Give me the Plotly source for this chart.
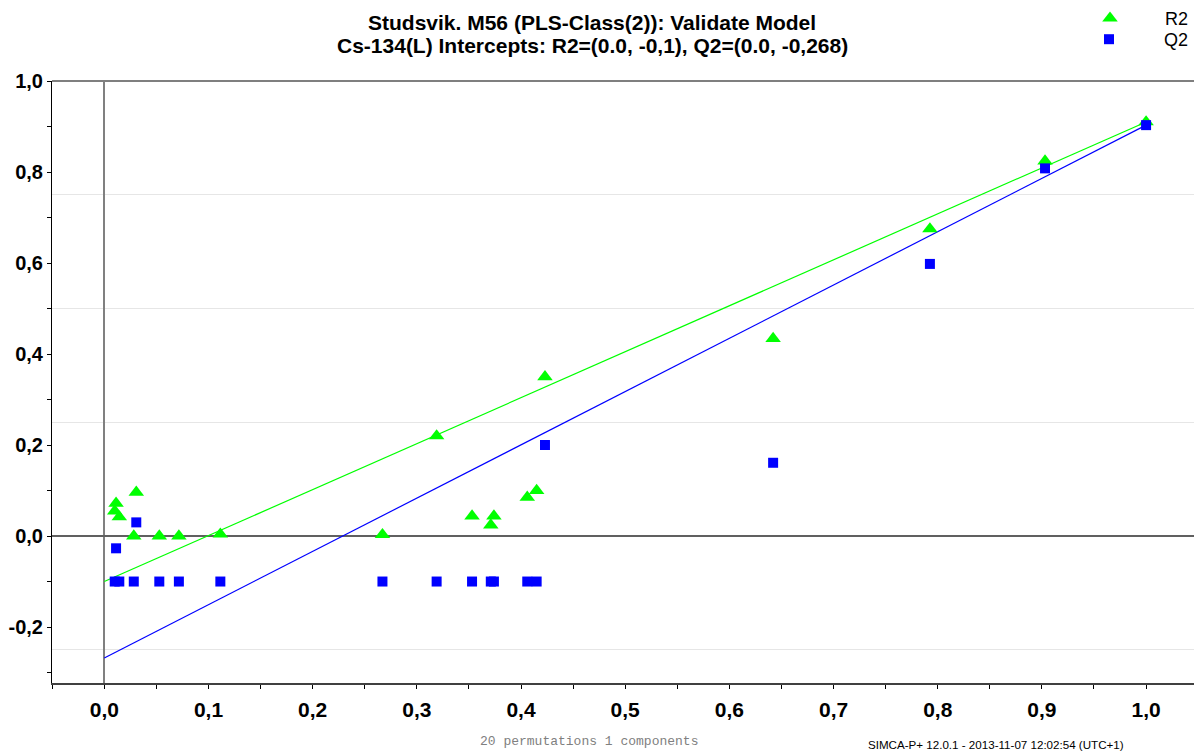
import plotly.graph_objects as go

# Permutation test results: correlation between permuted and original Y,
# with the R2 and Q2 obtained for each model (last entry = original model)
perm_corr = [0.0100, 0.0113, 0.0144, 0.0283, 0.0307, 0.0528, 0.0716, 0.1114,
             0.2670, 0.3190, 0.3530, 0.3710, 0.3740, 0.4060, 0.4150, 0.4230,
             0.6420, 0.7925, 0.9030, 1.0000]
r2_vals = [0.055, 0.072, 0.042, 0.000, 0.096, 0.000, 0.000, 0.004,
           0.003, 0.220, 0.044, 0.024, 0.044, 0.085, 0.100, 0.350,
           0.434, 0.675, 0.824, 0.910]
q2_vals = [-0.100, -0.027, -0.100, -0.100, 0.030, -0.100, -0.100, -0.100,
           -0.100, -0.100, -0.100, -0.100, -0.100, -0.100, -0.100, 0.200,
           0.161, 0.598, 0.808, 0.903]

r2_intercept = -0.1
q2_intercept = -0.268

y_ticks = [-0.2, 0.0, 0.2, 0.4, 0.6, 0.8, 1.0]
y_tick_labels = ["-0,2", "0,0", "0,2", "0,4", "0,6", "0,8", "1,0"]
y_grid = [-0.25, 0.25, 0.5, 0.75]
x_ticks = [0.0, 0.1, 0.2, 0.3, 0.4, 0.5, 0.6, 0.7, 0.8, 0.9, 1.0]
x_tick_labels = ["0,0", "0,1", "0,2", "0,3", "0,4", "0,5",
                 "0,6", "0,7", "0,8", "0,9", "1,0"]

title_line1 = "Studsvik. M56 (PLS-Class(2)): Validate Model"
title_line2 = "Cs-134(L) Intercepts: R2=(0.0, -0,1), Q2=(0.0, -0,268)"
footer_mid = "20 permutations 1 components"
footer_right = "SIMCA-P+ 12.0.1 - 2013-11-07 12:02:54 (UTC+1)"

GREEN = "#00FF00"
BLUE = "#0000FF"
FONT = "Liberation Sans, Arial, sans-serif"
PAD = "\u00a0" * 7

W, H = 1194, 751
L, R, T, B = 52, 0, 81, 68
PW, PH = W - L - R, H - T - B

fig = go.Figure()

# Regression lines from the intercept to the original model
fig.add_trace(go.Scatter(
    x=[0.0, perm_corr[-1]], y=[r2_intercept, r2_vals[-1]],
    mode="lines", line=dict(color=GREEN, width=1.2),
    showlegend=False, hoverinfo="skip"))
fig.add_trace(go.Scatter(
    x=[0.0, perm_corr[-1]], y=[q2_intercept, q2_vals[-1]],
    mode="lines", line=dict(color=BLUE, width=1.2),
    showlegend=False, hoverinfo="skip"))

fig.add_trace(go.Scatter(
    x=perm_corr, y=r2_vals, mode="markers", name=PAD + "R2",
    legend="legend",
    marker=dict(symbol="triangle-up", size=13.5, color=GREEN,
                line=dict(width=0))))
fig.add_trace(go.Scatter(
    x=perm_corr, y=q2_vals, mode="markers", name=PAD + "Q2",
    legend="legend2",
    marker=dict(symbol="square", size=10, color=BLUE,
                line=dict(width=0))))

# Invisible trace that carries the light horizontal grid axis
fig.add_trace(go.Scatter(
    x=[None], y=[None], yaxis="y2", showlegend=False, hoverinfo="skip"))

y_range = [-0.323, 1.0]
x_range = [-0.0502, 1.046]

legend_style = dict(
    x=1.0, xanchor="right", yanchor="top",
    xref="container", yref="container",
    font=dict(size=18, family=FONT),
    bgcolor="rgba(0,0,0,0)",
)

fig.update_layout(
    width=W, height=H,
    margin=dict(l=L, r=R, t=T, b=B, autoexpand=False),
    paper_bgcolor="white", plot_bgcolor="white",
    font=dict(family=FONT, color="black"),
    showlegend=True,
    legend=dict(legend_style, y=1.0 + 1 / H),
    legend2=dict(legend_style, y=1.0 - 21 / H),
    xaxis=dict(
        range=x_range, tickmode="array", tickvals=x_ticks,
        ticktext=x_tick_labels,
        tickfont=dict(size=21, family=FONT, weight="bold"),
        ticks="outside", ticklen=4, tickcolor="black", tickwidth=1,
        minor=dict(dtick=0.05, tick0=0, ticks="outside", ticklen=4,
                   tickcolor="black", showgrid=False),
        showline=True, linecolor="#404040", linewidth=2,
        showgrid=False,
        zeroline=True, zerolinecolor="#808080", zerolinewidth=2,
        ticklabelstandoff=3,
    ),
    yaxis=dict(
        range=y_range, tickmode="array", tickvals=y_ticks,
        ticktext=y_tick_labels,
        tickfont=dict(size=20, family=FONT, weight="bold"),
        ticks="outside", ticklen=4, tickcolor="black", tickwidth=1,
        minor=dict(dtick=0.1, tick0=0, ticks="outside", ticklen=4,
                   tickcolor="black", showgrid=False),
        showline=True, linecolor="black", linewidth=1,
        showgrid=False,
        zeroline=True, zerolinecolor="#606060", zerolinewidth=2,
    ),
    yaxis2=dict(
        range=y_range, overlaying="y", tickmode="array", tickvals=y_grid,
        showticklabels=False, ticks="", showgrid=True,
        gridcolor="#E6E6E6", gridwidth=1, zeroline=False, showline=False,
    ),
    shapes=[
        # top border of the plot frame
        dict(type="line", xref="paper", yref="paper", x0=0, x1=1, y0=1, y1=1,
             line=dict(color="#7F7F7F", width=2), layer="below"),
    ],
    annotations=[
        dict(text="<b>" + title_line1 + "</b>", xref="paper", yref="paper",
             x=(592 - L) / PW, y=1 + (T - 22) / PH, xanchor="center",
             yanchor="middle", showarrow=False,
             font=dict(size=21, family=FONT)),
        dict(text="<b>" + title_line2 + "</b>", xref="paper", yref="paper",
             x=(592 - L) / PW, y=1 + (T - 45) / PH, xanchor="center",
             yanchor="middle", showarrow=False,
             font=dict(size=21, family=FONT)),
        dict(text=footer_mid, xref="paper", yref="paper",
             x=(589 - L) / PW, y=-(741 - (H - B)) / PH, xanchor="center",
             yanchor="middle", showarrow=False,
             font=dict(size=13, family="Liberation Mono, Courier New, monospace",
                       color="#808080")),
        dict(text=footer_right, xref="paper", yref="paper",
             x=(995.5 - L) / PW, y=-(745 - (H - B)) / PH, xanchor="center",
             yanchor="middle", showarrow=False,
             font=dict(size=11.6, family="Liberation Sans Narrow, Arial Narrow, Liberation Sans",
                       color="black")),
    ],
)

fig.write_html("out.html")
